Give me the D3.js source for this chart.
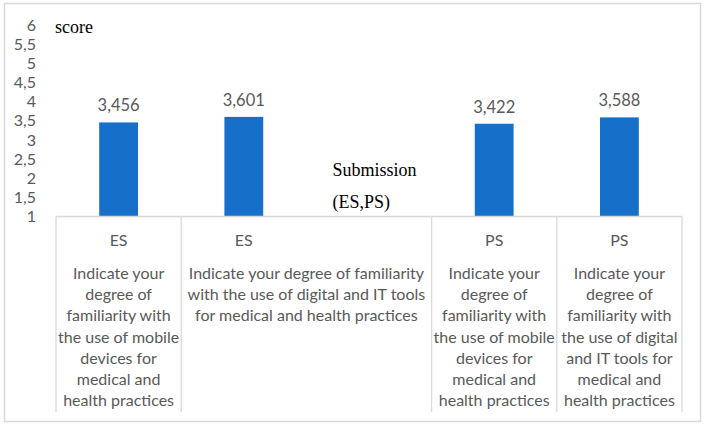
<!DOCTYPE html>
<html>
<head>
<meta charset="utf-8">
<script src="https://cdn.jsdelivr.net/npm/d3@7"></script>
<style>
  body { margin: 0; background: #fff; }
  svg text { font-family: Lato, "Liberation Sans", sans-serif; fill: #595959; }
  .serif { font-family: "Liberation Serif", "DejaVu Serif", serif; fill: #000; }
</style>
</head>
<body>
<svg id="chart" width="708" height="427"></svg>
<script>
// chart values
var categories = ["ES mobile", "ES digital", "Submission", "PS mobile", "PS digital"];
var scores = [3.456, 3.601, null, 3.422, 3.588];
var groupLabels = ["ES", "ES", "", "PS", "PS"];
var questionLines = [
  ["Indicate your", "degree of", "familiarity with", "the use of mobile", "devices for", "medical and", "health practices"],
  ["Indicate your degree of familiarity", "with the use of digital and IT tools", "for medical and health practices"],
  [],
  ["Indicate your", "degree of", "familiarity with", "the use of mobile", "devices for", "medical and", "health practices"],
  ["Indicate your", "degree of", "familiarity with", "the use of digital", "and IT tools for", "medical and", "health practices"]
];
var yTicks = [1, 1.5, 2, 2.5, 3, 3.5, 4, 4.5, 5, 5.5, 6];
var yTitle = "score";
var xTitle = ["Submission", "(ES,PS)"];

var svg = d3.select("#chart");
var comma = d3.formatLocale({decimal: ",", thousands: ".", grouping: [3], currency: ["", ""]});
var fmtTick = comma.format("~g");
var fmtVal = comma.format(".3f");

// chart frame
svg.append("rect").attr("x", 4.5).attr("y", 3.5).attr("width", 696).attr("height", 418)
  .attr("fill", "#fff").attr("stroke", "#d9d9d9").attr("stroke-width", 1.5);

var x = d3.scaleBand().domain(categories).range([56, 682]).paddingInner(0.69).paddingOuter(0.345);
var slot = d3.scaleBand().domain(categories).range([56, 682]);
var y = d3.scaleLinear().domain([1, 6]).range([216.5, 25]);

// y tick labels, no axis line
svg.append("g").selectAll("text").data(yTicks).enter().append("text")
  .attr("x", 36).attr("y", d => y(d)).attr("dy", "0.35em")
  .attr("text-anchor", "end").style("font-size", "16px")
  .text(d => fmtTick(d));

// bars
var data = categories.map((c, i) => ({cat: c, v: scores[i]})).filter(d => d.v != null);
svg.append("g").selectAll("rect").data(data).enter().append("rect")
  .attr("x", d => x(d.cat)).attr("width", x.bandwidth())
  .attr("y", d => y(d.v)).attr("height", d => y(1) - y(d.v))
  .attr("fill", "#1670c9");

svg.append("g").selectAll("text").data(data).enter().append("text")
  .attr("x", d => x(d.cat) + x.bandwidth() / 2).attr("y", d => y(d.v) - 11)
  .attr("text-anchor", "middle").style("font-size", "16.5px")
  .text(d => fmtVal(d.v));

// category table under the axis
var grid = svg.append("g").attr("stroke", "#d9d9d9").attr("stroke-width", 1.3);
grid.append("line").attr("x1", 56).attr("x2", 682).attr("y1", y(1)).attr("y2", y(1));
var edges = [56].concat(categories.map(c => slot(c) + slot.bandwidth()));
grid.selectAll(".v").data(edges.filter((e, i) => i != 2)).enter().append("line")
  .attr("x1", d => d).attr("x2", d => d).attr("y1", y(1)).attr("y2", 412);

svg.append("g").selectAll("text").data(categories).enter().append("text")
  .attr("x", d => x(d) + x.bandwidth() / 2).attr("y", 240).attr("dy", "0.35em")
  .attr("text-anchor", "middle").style("font-size", "16px")
  .text((d, i) => groupLabels[i]);

categories.forEach(function(c, i) {
  // second question spills over the empty third cell
  var cx = i == 1 ? slot(c) + slot.bandwidth() : slot(c) + slot.bandwidth() / 2;
  svg.append("text").attr("text-anchor", "middle").style("font-size", "16px")
    .selectAll("tspan").data(questionLines[i]).enter().append("tspan")
    .attr("x", cx).attr("y", (d, j) => 273 + j * 21.3).attr("dy", "0.35em")
    .text(d => d);
});

// titles
svg.append("text").attr("class", "serif").attr("x", 55).attr("y", 27).attr("dy", "0.35em")
  .style("font-size", "18px").text(yTitle);
svg.append("text").attr("class", "serif").style("font-size", "18px")
  .selectAll("tspan").data(xTitle).enter().append("tspan")
  .attr("x", slot("Submission") + 26).attr("y", (d, j) => 170 + j * 32).attr("dy", "0.35em")
  .text(d => d);
</script>
</body>
</html>
